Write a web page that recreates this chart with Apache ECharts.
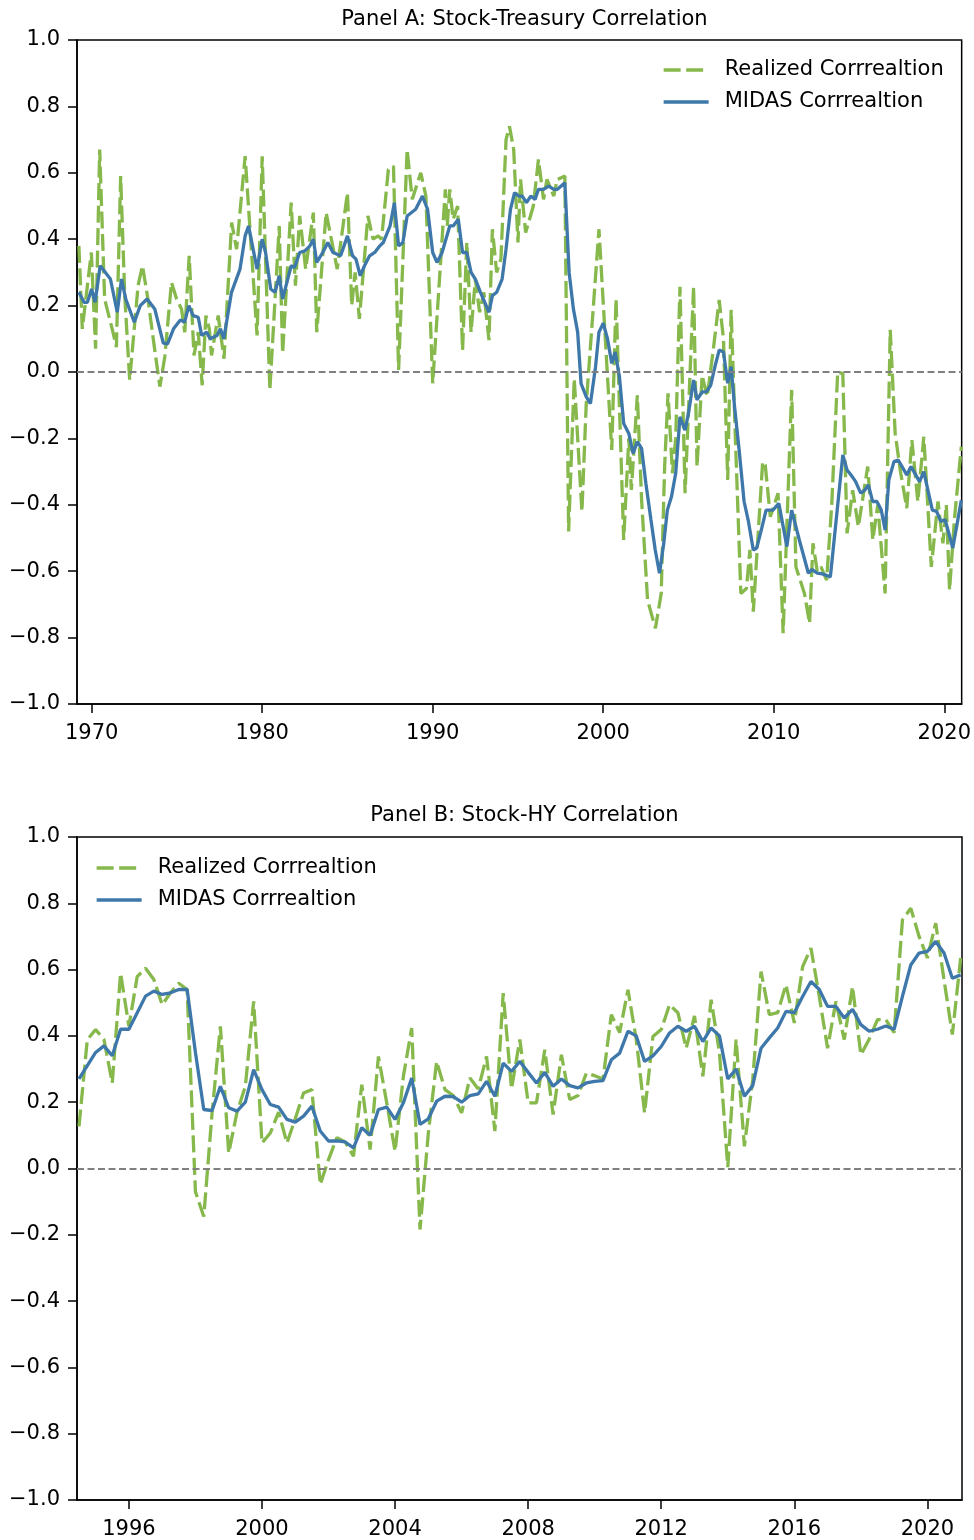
<!DOCTYPE html>
<html>
<head>
<meta charset="utf-8">
<script src="https://cdn.jsdelivr.net/npm/echarts@6/dist/echarts.min.js"></script>
<style>
html,body{margin:0;padding:0;background:#fff;}
#chart{width:974px;height:1540px;}
</style>
</head>
<body>
<div id="chart"></div>
<script>
// ---------------- DATA ----------------
const titleA = 'Panel A: Stock-Treasury Correlation';
const titleB = 'Panel B: Stock-HY Correlation';
const nameRealized = 'Realized Corrrealtion';
const nameMidas = 'MIDAS Corrrealtion';

const xTicksA = [1970, 1980, 1990, 2000, 2010, 2020];
const xTicksB = [1996, 2000, 2004, 2008, 2012, 2016, 2020];
const yTicks = [-1.0, -0.8, -0.6, -0.4, -0.2, 0.0, 0.2, 0.4, 0.6, 0.8, 1.0];

// Panel A: [year, correlation]
const realizedA = [
  [1969.25,0.38],[1969.45,0.13],[1969.98,0.36],[1970.23,0.07],[1970.47,0.67],[1970.76,0.22],
  [1971.25,0.12],[1971.45,0.075],[1971.7,0.59],[1971.94,0.23],[1972.23,-0.024],[1972.72,0.26],
  [1972.98,0.32],[1973.3,0.22],[1973.7,0.066],[1974.0,-0.044],[1974.29,0.046],[1974.68,0.27],
  [1974.98,0.22],[1975.27,0.19],[1975.46,0.12],[1975.72,0.35],[1976.0,0.05],[1976.25,0.12],
  [1976.48,-0.04],[1976.7,0.17],[1976.9,0.13],[1977.03,0.05],[1977.42,0.17],[1977.76,0.04],
  [1978.21,0.45],[1978.5,0.37],[1979.0,0.65],[1979.7,0.11],[1980.0,0.65],[1980.45,-0.054],
  [1981.0,0.44],[1981.2,0.056],[1981.7,0.51],[1981.95,0.26],[1982.2,0.47],[1982.55,0.31],
  [1983.0,0.48],[1983.2,0.12],[1983.75,0.48],[1984.4,0.31],[1985.0,0.54],[1985.25,0.20],
  [1985.45,0.30],[1985.7,0.16],[1986.2,0.47],[1986.5,0.40],[1986.8,0.41],[1987.0,0.40],
  [1987.4,0.61],[1987.7,0.62],[1988.0,0.006],[1988.5,0.67],[1988.8,0.52],[1989.3,0.60],
  [1989.6,0.53],[1990.0,-0.034],[1990.74,0.55],[1990.85,0.44],[1991.0,0.55],[1991.2,0.46],
  [1991.46,0.50],[1991.75,0.066],[1992.0,0.39],[1992.25,0.12],[1992.5,0.28],[1992.75,0.18],
  [1993.0,0.24],[1993.3,0.096],[1993.5,0.43],[1993.75,0.30],[1994.0,0.34],[1994.3,0.70],
  [1994.5,0.74],[1994.75,0.67],[1995.0,0.39],[1995.15,0.58],[1995.45,0.42],[1995.9,0.50],
  [1996.2,0.64],[1996.5,0.52],[1996.7,0.58],[1997.1,0.53],[1997.3,0.58],[1997.75,0.59],
  [1997.97,-0.48],[1998.3,-0.02],[1998.75,-0.42],[1999.0,-0.10],[1999.75,0.43],[2000.5,-0.235],
  [2000.75,0.22],[2001.2,-0.506],[2001.5,-0.20],[2001.65,-0.355],[2002.0,-0.07],[2002.25,-0.386],
  [2002.6,-0.687],[2003.06,-0.772],[2003.4,-0.667],[2003.6,-0.285],[2003.8,-0.064],[2004.06,-0.305],
  [2004.25,-0.20],[2004.5,0.257],[2004.8,-0.365],[2005.3,0.257],[2005.5,-0.285],[2005.8,-0.01],
  [2006.1,-0.074],[2006.45,0.066],[2006.8,0.217],[2007.05,0.10],[2007.3,-0.325],[2007.5,0.187],
  [2007.75,-0.20],[2008.07,-0.667],[2008.4,-0.652],[2008.6,-0.536],[2008.8,-0.722],[2009.35,-0.27],
  [2009.5,-0.28],[2009.8,-0.436],[2010.25,-0.365],[2010.55,-0.787],[2011.05,-0.054],[2011.3,-0.587],
  [2011.8,-0.667],[2012.1,-0.757],[2012.3,-0.516],[2012.55,-0.60],[2012.77,-0.587],[2013.1,-0.627],
  [2013.4,-0.40],[2013.75,0.0],[2014.05,-0.005],[2014.3,-0.486],[2014.63,-0.356],[2014.96,-0.466],
  [2015.51,-0.285],[2015.81,-0.506],[2016.1,-0.40],[2016.53,-0.667],[2016.83,0.127],[2017.12,-0.185],
  [2017.43,-0.30],[2017.8,-0.41],[2018.1,-0.205],[2018.45,-0.39],[2018.8,-0.195],[2019.24,-0.587],
  [2019.63,-0.39],[2019.92,-0.516],[2020.12,-0.40],[2020.31,-0.657],[2020.6,-0.44],[2021.0,-0.225]
];

const midasA = [
  [1969.25,0.24],[1969.55,0.21],[1969.75,0.21],[1970.0,0.25],[1970.2,0.21],[1970.5,0.32],
  [1971.1,0.28],[1971.5,0.18],[1971.75,0.28],[1972.0,0.22],[1972.5,0.15],[1972.85,0.20],
  [1973.25,0.22],[1973.7,0.19],[1974.2,0.087],[1974.45,0.085],[1974.8,0.13],[1975.2,0.157],
  [1975.45,0.15],[1975.7,0.20],[1975.95,0.17],[1976.25,0.165],[1976.45,0.11],[1976.75,0.12],
  [1976.95,0.10],[1977.35,0.11],[1977.55,0.13],[1977.75,0.10],[1978.2,0.24],[1978.7,0.31],
  [1979.0,0.41],[1979.2,0.44],[1979.7,0.31],[1980.0,0.40],[1980.2,0.36],[1980.5,0.25],
  [1980.75,0.24],[1981.0,0.29],[1981.2,0.22],[1981.4,0.26],[1981.7,0.32],[1981.9,0.315],
  [1982.2,0.36],[1982.5,0.365],[1982.8,0.38],[1983.0,0.40],[1983.2,0.33],[1983.55,0.36],
  [1983.85,0.39],[1984.15,0.36],[1984.6,0.35],[1985.0,0.41],[1985.3,0.35],[1985.5,0.34],
  [1985.75,0.29],[1986.0,0.32],[1986.3,0.35],[1986.6,0.36],[1986.9,0.38],[1987.1,0.39],
  [1987.5,0.44],[1987.75,0.51],[1988.0,0.38],[1988.25,0.39],[1988.5,0.47],[1989.0,0.49],
  [1989.4,0.53],[1989.7,0.49],[1990.0,0.36],[1990.25,0.33],[1990.55,0.36],[1991.0,0.44],
  [1991.2,0.44],[1991.5,0.46],[1991.75,0.36],[1992.0,0.36],[1992.25,0.30],[1992.5,0.28],
  [1992.8,0.24],[1993.3,0.18],[1993.5,0.23],[1993.75,0.24],[1994.07,0.28],[1994.3,0.37],
  [1994.56,0.49],[1994.8,0.54],[1995.05,0.53],[1995.25,0.53],[1995.5,0.51],[1995.75,0.53],
  [1996.0,0.52],[1996.2,0.55],[1996.5,0.55],[1996.8,0.56],[1997.1,0.55],[1997.3,0.55],
  [1997.75,0.57],[1998.0,0.30],[1998.25,0.19],[1998.5,0.12],[1998.7,-0.035],[1999.0,-0.074],
  [1999.25,-0.095],[1999.55,0.016],[1999.75,0.12],[2000.0,0.147],[2000.25,0.10],[2000.5,0.026],
  [2000.7,0.06],[2000.95,-0.014],[2001.2,-0.155],[2001.5,-0.185],[2001.75,-0.245],[2002.0,-0.21],
  [2002.25,-0.23],[2002.5,-0.335],[2002.8,-0.446],[2003.05,-0.536],[2003.3,-0.606],[2003.55,-0.516],
  [2003.76,-0.416],[2004.0,-0.376],[2004.25,-0.305],[2004.5,-0.135],[2004.8,-0.175],[2005.0,-0.124],
  [2005.3,-0.024],[2005.5,-0.084],[2005.8,-0.06],[2006.05,-0.06],[2006.3,-0.04],[2006.55,0.016],
  [2006.8,0.066],[2007.05,0.06],[2007.3,-0.034],[2007.5,0.016],[2007.7,-0.104],[2007.97,-0.235],
  [2008.26,-0.39],[2008.5,-0.446],[2008.8,-0.536],[2009.0,-0.53],[2009.25,-0.48],[2009.55,-0.416],
  [2009.95,-0.416],[2010.3,-0.396],[2010.77,-0.526],[2011.05,-0.416],[2011.5,-0.506],[2012.03,-0.606],
  [2012.25,-0.595],[2012.55,-0.606],[2012.85,-0.608],[2013.32,-0.617],[2014.05,-0.25],[2014.3,-0.295],
  [2014.6,-0.315],[2014.8,-0.33],[2015.1,-0.365],[2015.35,-0.355],[2015.55,-0.34],[2015.8,-0.39],
  [2016.05,-0.39],[2016.3,-0.415],[2016.53,-0.476],[2016.75,-0.325],[2017.05,-0.27],[2017.3,-0.265],
  [2017.8,-0.31],[2018.05,-0.285],[2018.55,-0.33],[2018.8,-0.30],[2019.3,-0.416],[2019.55,-0.42],
  [2019.8,-0.45],[2020.05,-0.445],[2020.5,-0.53],[2021.0,-0.386]
];

// Panel B: quarterly values starting at 1994.5
const startB = 1994.5;
const realizedB = [
  0.127,0.389,0.419,0.389,0.258,0.589,0.429,0.579,
  0.604,0.57,0.494,0.53,0.559,0.54,-0.07,-0.145,
  0.168,0.429,0.047,0.17,0.248,0.504,0.077,0.107,
  0.17,0.077,0.15,0.228,0.238,-0.048,0.027,0.093,
  0.08,0.037,0.253,0.057,0.338,0.198,0.052,0.278,
  0.424,-0.184,0.107,0.323,0.238,0.22,0.168,0.273,
  0.24,0.338,0.113,0.529,0.24,0.389,0.198,0.198,
  0.358,0.163,0.343,0.208,0.22,0.288,0.28,0.27,
  0.464,0.41,0.539,0.389,0.168,0.398,0.419,0.494,
  0.47,0.363,0.46,0.278,0.509,0.35,0.004,0.389,
  0.067,0.268,0.594,0.464,0.47,0.554,0.439,0.609,
  0.665,0.519,0.363,0.504,0.389,0.549,0.343,0.39,
  0.449,0.449,0.41,0.75,0.785,0.70,0.635,0.74,
  0.569,0.404,0.635
];
const midasB = [
  0.27,0.31,0.35,0.37,0.34,0.42,0.42,0.47,
  0.52,0.535,0.525,0.53,0.54,0.54,0.35,0.178,
  0.175,0.248,0.183,0.173,0.20,0.298,0.238,0.193,
  0.185,0.148,0.14,0.158,0.188,0.113,0.083,0.083,
  0.08,0.062,0.123,0.10,0.178,0.185,0.148,0.198,
  0.273,0.133,0.15,0.203,0.218,0.217,0.20,0.22,
  0.225,0.263,0.218,0.318,0.293,0.323,0.29,0.258,
  0.29,0.248,0.27,0.25,0.243,0.258,0.263,0.265,
  0.328,0.348,0.414,0.40,0.323,0.34,0.368,0.409,
  0.429,0.414,0.429,0.383,0.424,0.40,0.27,0.30,
  0.218,0.25,0.363,0.394,0.424,0.474,0.47,0.519,
  0.564,0.54,0.489,0.489,0.454,0.48,0.434,0.414,
  0.42,0.43,0.42,0.519,0.614,0.65,0.655,0.685,
  0.65,0.574,0.584
];

// ---------------- CHART ----------------
const FONT = 'DejaVu Sans';
const FS = 21;
const GREEN = '#86b84b';
const BLUE = '#3e77a9';
const toPairs = (arr, start) => arr.map((v, i) => [start + 0.25 * i, v]);

function yLabel(v) {
  const r = Math.round(v * 10) / 10;
  return (r < 0 ? '\u2212' : '') + Math.abs(r).toFixed(1);
}

function xAxisFor(gi, min, max, ticks) {
  return {
    type: 'value', gridIndex: gi, min: min, max: max,
    splitLine: { show: false },
    axisLine: { show: true, onZero: false, lineStyle: { color: '#000', width: 1.5 } },
    axisTick: { show: true, length: 9, inside: false, customValues: ticks,
      lineStyle: { color: '#000', width: 1.5 } },
    axisLabel: { show: true, customValues: ticks, margin: 19, color: '#000',
      fontFamily: FONT, fontSize: FS, formatter: v => String(Math.round(v)) }
  };
}
function yAxisFor(gi) {
  return {
    type: 'value', gridIndex: gi, min: -1, max: 1,
    splitLine: { show: false },
    axisLine: { show: true, onZero: false, lineStyle: { color: '#000', width: 1.5 } },
    axisTick: { show: true, length: 9, customValues: yTicks,
      lineStyle: { color: '#000', width: 1.5 } },
    axisLabel: { show: true, customValues: yTicks, margin: 17, color: '#000',
      fontFamily: FONT, fontSize: FS, formatter: yLabel }
  };
}

const zeroLine = {
  silent: true, symbol: 'none', label: { show: false },
  lineStyle: { color: '#808080', type: [7, 3.5], width: 2 },
  data: [{ yAxis: 0 }]
};

function realizedSeries(gi, data, withZero) {
  const s = {
    name: nameRealized, type: 'line', xAxisIndex: gi, yAxisIndex: gi,
    data: data, showSymbol: false, symbol: 'none', animation: false, z: 2,
    lineStyle: { color: GREEN, width: 3.3, type: [17, 5.5] },
    itemStyle: { color: GREEN }
  };
  if (withZero) s.markLine = zeroLine;
  return s;
}
function midasSeries(gi, data) {
  return {
    name: nameMidas, type: 'line', xAxisIndex: gi, yAxisIndex: gi,
    data: data, showSymbol: false, symbol: 'none', animation: false, z: 3,
    lineStyle: { color: BLUE, width: 3.3 },
    itemStyle: { color: BLUE }
  };
}

function legendAt(left, top) {
  return {
    left: left, top: top, orient: 'vertical', itemWidth: 45, itemHeight: 14,
    itemGap: 10, selectedMode: false, padding: 0,
    itemStyle: { opacity: 0 },
    lineStyle: { width: 3.3 },
    data: [nameRealized, nameMidas],
    textStyle: { fontFamily: FONT, fontSize: FS, color: '#000', lineHeight: 22,
      padding: [0, 0, 0, 11] }
  };
}

const chart = echarts.init(document.getElementById('chart'), null, { renderer: 'canvas' });
chart.setOption({
  animation: false,
  backgroundColor: '#fff',
  title: [
    { text: titleA, left: 519.5, top: 4, textAlign: 'center',
      textStyle: { fontFamily: FONT, fontSize: FS, fontWeight: 'normal', color: '#000' } },
    { text: titleB, left: 519.5, top: 800, textAlign: 'center',
      textStyle: { fontFamily: FONT, fontSize: FS, fontWeight: 'normal', color: '#000' } }
  ],
  legend: [legendAt(662, 59), legendAt(95, 857)],
  grid: [
    { left: 77, right: 12, top: 40, height: 664, show: true, borderColor: '#000', borderWidth: 1.5 },
    { left: 77, right: 12, top: 837, height: 664, show: true, borderColor: '#000', borderWidth: 1.5 }
  ],
  xAxis: [
    xAxisFor(0, 1969.14, 2021.02, xTicksA),
    xAxisFor(1, 1994.44, 2021.04, xTicksB)
  ],
  yAxis: [yAxisFor(0), yAxisFor(1)],
  series: [
    realizedSeries(0, realizedA, true),
    midasSeries(0, midasA),
    realizedSeries(1, toPairs(realizedB, startB), true),
    midasSeries(1, toPairs(midasB, startB))
  ]
});
</script>
</body>
</html>
